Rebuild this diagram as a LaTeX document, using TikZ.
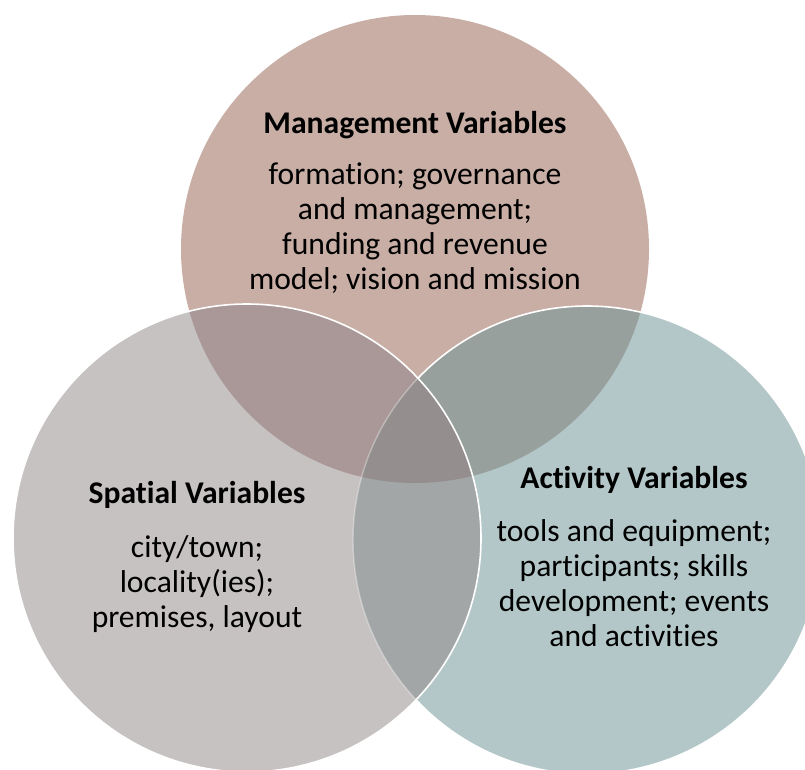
\documentclass[tikz,border=0pt]{standalone}
\usepackage{fontspec}
\setmainfont{Carlito}[Ligatures=NoCommon]
\definecolor{topc}{HTML}{C8AEA5}
\definecolor{rightc}{HTML}{B4C7C8}
\definecolor{leftc}{HTML}{C7C2C2}
\definecolor{tlc}{HTML}{A99897}
\definecolor{trc}{HTML}{97A09D}
\definecolor{lrc}{HTML}{A3A6A7}
\definecolor{tlrc}{HTML}{948E8E}
\tikzset{
  vtitle/.style={inner sep=0pt, font=\fontsize{31.6}{35}\selectfont\bfseries, text=black},
  vbody/.style={inner sep=0pt, align=center, font=\fontsize{31.6}{35}\selectfont, text=black},
  rim/.style={draw=white, line width=1.6pt},
}
\begin{document}
\begin{tikzpicture}[x=1pt, y=-1pt]
\path[use as bounding box] (0,0) rectangle (805,769);
\clip (0,0) rectangle (805,769);
\coordinate (T) at (415,249);
\coordinate (L) at (247,538);
\coordinate (R) at (587,540);
\def\rr{234}
% top circle
\fill[topc] (T) circle (\rr);
% right circle
\fill[rightc] (R) circle (\rr);
\begin{scope}
  \clip (T) circle (\rr);
  \fill[trc] (R) circle (\rr);
\end{scope}
\draw[rim] (R) circle (\rr);
% left circle
\fill[leftc] (L) circle (\rr);
\begin{scope}
  \clip (L) circle (\rr);
  \fill[tlc] (T) circle (\rr);
  \fill[lrc] (R) circle (\rr);
  \clip (T) circle (\rr);
  \fill[tlrc] (R) circle (\rr);
\end{scope}
\begin{scope}
  \clip (L) circle (\rr);
  \draw[draw=white, draw opacity=0.35, line width=1.4pt] (R) circle (\rr);
\end{scope}
\draw[rim] (L) circle (\rr);
% texts
\node[vtitle] (mt) at (415,125) {Management Variables};
\node[vbody] (mb) at (415,228) {formation; governance\\and management;\\funding and revenue\\model; vision and mission};
\node[vtitle] (st) at (197,495) {Spatial Variables};
\node[vbody] (sb) at (197,584) {city/town;\\locality(ies);\\premises, layout};
\node[vtitle] (at) at (634,480) {Activity Variables};
\node[vbody] (ab) at (634,583) {tools and equipment;\\participants; skills\\development; events\\and activities};
\end{tikzpicture}
\end{document}
